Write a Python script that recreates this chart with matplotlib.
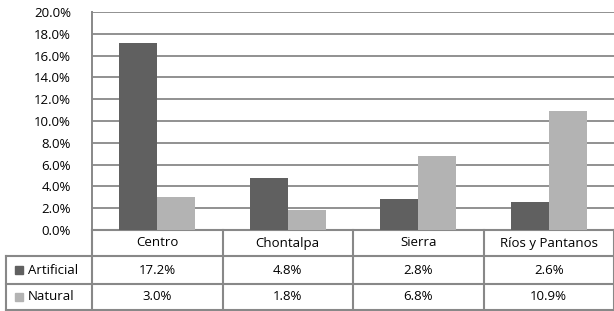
import matplotlib
matplotlib.use('Agg')
import matplotlib.pyplot as plt
import numpy as np

# data
regions = ['Centro', 'Chontalpa', 'Sierra', 'Ríos y Pantanos']
artificial = [17.2, 4.8, 2.8, 2.6]
natural = [3.0, 1.8, 6.8, 10.9]
series_names = ['Artificial', 'Natural']
series_colors = ['#606060', '#b3b3b3']

plt.rcParams['font.family'] = ['Open Sans', 'DejaVu Sans']
plt.rcParams['font.size'] = 9

W, H = 614, 311
fig = plt.figure(figsize=(W / 100, H / 100), dpi=100)

# plot area in pixels
left, right, top, bottom = 92, 614, 12, 230
ax = fig.add_axes([left / W, 1 - bottom / H, (right - left) / W, (bottom - top) / H])

x = np.arange(len(regions))
width = 0.29
ax.bar(x - width / 2, artificial, width, color=series_colors[0], zorder=3)
ax.bar(x + width / 2, natural, width, color=series_colors[1], zorder=3)

ax.set_xlim(-0.5, len(regions) - 0.5)
ax.set_ylim(0, 20)
ax.set_yticks(np.arange(0, 20.1, 2))
ax.set_yticklabels([f'{v:.1f}%' for v in np.arange(0, 20.1, 2)])
ax.tick_params(axis='y', length=0, pad=15, labelsize=9.5, colors='black')
ax.set_xticks([])
ax.yaxis.grid(True, color='#888888', linewidth=1.3, zorder=0)
for s in ['top', 'right', 'bottom']:
    ax.spines[s].set_visible(False)
ax.spines['left'].set_color('#888888')
ax.spines['left'].set_linewidth(1.4)

# data table below the plot (x in data units, y in axes units)
tr = ax.get_xaxis_transform()
lc = '#888888'
lw = 1.5
span = bottom - top
def ay(py):
    return (bottom - py) / span

row_y = [ay(256), ay(284), ay(310)]
x_lab = -0.5 + (6 - left) / ((right - left) / len(regions))
x_end = len(regions) - 0.5

# horizontal lines
ax.plot([-0.5, x_end], [0, 0], color=lc, lw=lw, transform=tr, clip_on=False)
for yy in row_y:
    ax.plot([x_lab, x_end], [yy, yy], color=lc, lw=lw, transform=tr, clip_on=False)
# vertical lines
for i in range(len(regions) + 1):
    xx = -0.5 + i
    ax.plot([xx, xx], [0, row_y[-1]], color=lc, lw=lw, transform=tr, clip_on=False)
ax.plot([x_lab, x_lab], [row_y[0], row_y[-1]], color=lc, lw=lw, transform=tr, clip_on=False)

# header labels
for i, r in enumerate(regions):
    ax.text(i, ay(243), r, ha='center', va='center', transform=tr, fontsize=9.5)

# row labels and values
rows = [artificial, natural]
for j, (name, vals, col) in enumerate(zip(series_names, rows, series_colors)):
    yc = ay([270, 297][j])
    ax.plot([x_lab + 0.1], [yc], marker='s', markersize=5.8, color=col,
            linestyle='none', transform=tr, clip_on=False)
    ax.text(x_lab + 0.17, yc, name, ha='left', va='center', transform=tr, fontsize=9.5)
    for i, v in enumerate(vals):
        ax.text(i, yc, f'{v:.1f}%', ha='center', va='center', transform=tr, fontsize=9.5)

fig.savefig('out.png', dpi=100)
